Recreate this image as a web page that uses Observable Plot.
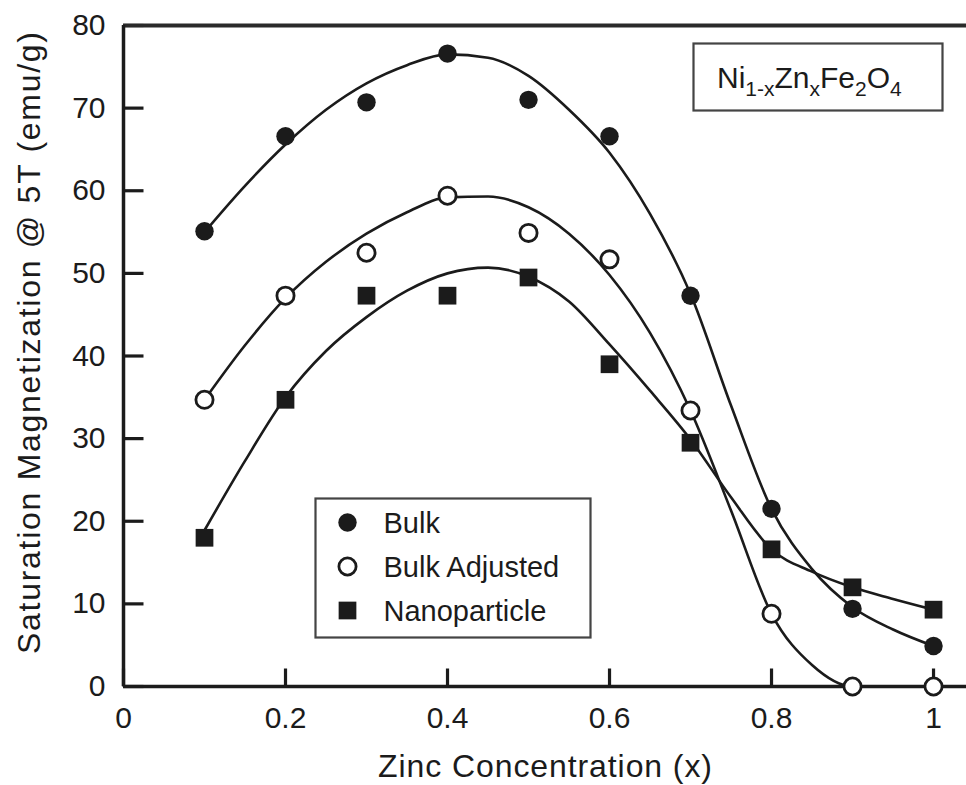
<!DOCTYPE html>
<html><head><meta charset="utf-8">
<script src="https://cdn.jsdelivr.net/npm/d3@7"></script>
<script src="https://cdn.jsdelivr.net/npm/@observablehq/plot@0.6"></script>
<style>
body{margin:0;background:#fff;}
#chart{width:966px;height:785px;}
</style></head><body><div id="chart"></div>
<script>
// ---- data ----
const concentrations = [0.1, 0.2, 0.3, 0.4, 0.5, 0.6, 0.7, 0.8, 0.9, 1.0];
const bulk           = [55.1, 66.6, 70.7, 76.6, 71.0, 66.6, 47.3, 21.5, 9.4, 4.9];
const bulkAdjusted   = [34.7, 47.3, 52.5, 59.4, 54.9, 51.7, 33.4, 8.8, 0.0, 0.0];
const nanoparticle   = [18.0, 34.7, 47.3, 47.3, 49.5, 39.0, 29.5, 16.6, 12.0, 9.3];

// fitted curves as drawn in the reference
const fitX           = [0.10, 0.15, 0.20, 0.25, 0.30, 0.35, 0.40, 0.45, 0.50, 0.55, 0.60, 0.65, 0.70, 0.75, 0.80, 0.85, 0.90, 0.95, 1.00];
const bulkFit        = [55.0, 60.6, 65.6, 69.8, 73.0, 75.2, 76.5, 76.1, 73.9, 69.8, 64.6, 57.2, 47.5, 34.0, 21.5, 14.2, 9.6, 6.9, 4.9];
const bulkAdjustedFit= [34.7, 41.3, 47.0, 51.4, 54.8, 57.4, 59.2, 59.3, 58.0, 54.8, 49.8, 42.8, 33.4, 21.3, 8.8, 2.6, 0.0, 0.0, 0.0];
const nanoparticleFit= [18.9, 27.3, 35.0, 40.6, 44.7, 47.9, 50.0, 50.7, 49.6, 46.6, 41.4, 35.8, 29.9, 22.9, 16.6, 13.9, 12.0, 10.6, 9.3];

const seriesNames = ["Bulk", "Bulk Adjusted", "Nanoparticle"];
const xTicks = [0, 0.2, 0.4, 0.6, 0.8, 1];
const yTicks = [0, 10, 20, 30, 40, 50, 60, 70, 80];
const xLabel = "Zinc Concentration (x)";
const yLabel = "Saturation Magnetization @ 5T (emu/g)";

// ---- build tables ----
const rows = (xs, ys) => xs.map((x, i) => ({x, y: ys[i]}));
const bulkPts = rows(concentrations, bulk);
const adjPts = rows(concentrations, bulkAdjusted);
const nanoPts = rows(concentrations, nanoparticle);
const bulkLine = rows(fitX, bulkFit);
const adjLine = rows(fitX, bulkAdjustedFit);
const nanoLine = rows(fitX, nanoparticleFit);

const ink = "#1b1b1b";
const font = "'Liberation Sans', Arial, Helvetica, sans-serif";
const rDot = 9.2, rOpen = 8.6, rSq = 10.0;
const W = 966, H = 785, mL = 123, mR = 0, mT = 25, mB = 99;
const xDomain = [0, 1.0407], yDomain = [0, 80];
// tick lengths (20px on y axis, 18px on x axis) expressed in data units
const yTickLen = 20 * (xDomain[1] - xDomain[0]) / (W - mL - mR);
const xTickLen = 18 * (yDomain[1] - yDomain[0]) / (H - mT - mB);
const tickRows = yTicks.map(v => ({v}));
const xTickRows = xTicks.map(v => ({v}));

const legendRows = [
  {name: seriesNames[0], dy: 497, mark: (o) => Plot.dot([0], {...o, r: rDot, fill: ink})},
  {name: seriesNames[1], dy: 541, mark: (o) => Plot.dot([0], {...o, r: rOpen, fill: "white", stroke: ink, strokeWidth: 2.8})},
  {name: seriesNames[2], dy: 585, mark: (o) => Plot.dot([0], {...o, r: rSq, symbol: "square", fill: ink})}
];

const plot = Plot.plot({
  width: W,
  height: H,
  marginLeft: mL,
  marginRight: mR,
  marginTop: mT,
  marginBottom: mB,
  style: {fontFamily: font, color: ink, background: "white"},
  x: {domain: xDomain},
  y: {domain: yDomain},
  marks: [
    // tick labels
    Plot.axisY({ticks: yTicks, tickSize: 0, tickPadding: 18, fontSize: 30, label: null, tickFormat: d => String(d)}),
    Plot.axisX({ticks: xTicks, tickSize: 0, tickPadding: 20, fontSize: 30, label: null, tickFormat: d => String(d)}),
    // inward ticks (short links between scaled data positions)
    Plot.link(tickRows, {x1: () => xDomain[0], x2: () => xDomain[0] + yTickLen, y1: "v", y2: "v", stroke: ink, strokeWidth: 3.2}),
    Plot.link(xTickRows, {x1: "v", x2: "v", y1: () => yDomain[0], y2: () => yDomain[0] + xTickLen, stroke: ink, strokeWidth: 3.2}),
    // fitted curves
    Plot.line(bulkLine, {x: "x", y: "y", curve: "monotone-x", stroke: ink, strokeWidth: 2.6}),
    Plot.line(adjLine, {x: "x", y: "y", curve: "monotone-x", stroke: ink, strokeWidth: 2.6}),
    Plot.line(nanoLine, {x: "x", y: "y", curve: "monotone-x", stroke: ink, strokeWidth: 2.6}),
    // frame lines
    Plot.ruleY([0], {stroke: ink, strokeWidth: 3.5}),
    Plot.ruleY([80], {stroke: "#2a2a2a", strokeWidth: 4}),
    Plot.ruleX([0], {stroke: ink, strokeWidth: 3.5}),
    // data points
    Plot.dot(bulkPts, {x: "x", y: "y", r: rDot, fill: ink}),
    Plot.dot(adjPts, {x: "x", y: "y", r: rOpen, fill: "white", stroke: ink, strokeWidth: 2.8}),
    Plot.dot(nanoPts, {x: "x", y: "y", r: rSq, symbol: "square", fill: ink}),
    // legend
    Plot.frame({insetLeft: 192, insetTop: 473, insetRight: 376, insetBottom: 49, stroke: "#444", strokeWidth: 2.2, fill: "white"}),
    ...legendRows.map(r => r.mark({frameAnchor: "top-left", dx: 224, dy: r.dy})),
    ...legendRows.map(r => Plot.text([r.name], {frameAnchor: "top-left", dx: 260, dy: r.dy + 1, text: d => d, textAnchor: "start", lineAnchor: "middle", fontSize: 29, fill: ink})),
    // formula box
    Plot.frame({insetLeft: 570, insetTop: 18, insetRight: 24, insetBottom: 576, stroke: "#444", strokeWidth: 2.2, fill: "white"}),
    // x axis title
    Plot.text([xLabel], {frameAnchor: "bottom", dy: 80, text: d => d, fontSize: 32, fill: ink, lineAnchor: "middle"})
  ]
});

document.getElementById("chart").appendChild(plot);

const svg = d3.select(plot);
svg.selectAll("text").filter(function() { return this.textContent === xLabel; })
  .attr("textLength", 334).attr("lengthAdjust", "spacing");

// y axis title (rotated)
svg.append("text")
  .attr("transform", "translate(29,343) rotate(-90)")
  .attr("text-anchor", "middle")
  .attr("dy", "0.35em")
  .attr("font-family", font).attr("font-size", 32).attr("fill", ink)
  .attr("textLength", 622).attr("lengthAdjust", "spacing")
  .text(yLabel);

// chemical formula with subscripts
const formula = [["Ni", false], ["1-x", true], ["Zn", false], ["x", true], ["Fe", false], ["2", true], ["O", false], ["4", true]];
const ft = svg.append("text")
  .attr("x", 717).attr("y", 88)
  .attr("text-anchor", "start")
  .attr("font-family", font).attr("font-size", 30).attr("fill", ink);
let prevSub = false;
formula.forEach(([s, sub]) => {
  const ts = ft.append("tspan").text(s);
  if (sub && !prevSub) ts.attr("dy", 8);
  else if (!sub && prevSub) ts.attr("dy", -8);
  if (sub) ts.attr("font-size", 21);
  prevSub = sub;
});
</script>
</body></html>
